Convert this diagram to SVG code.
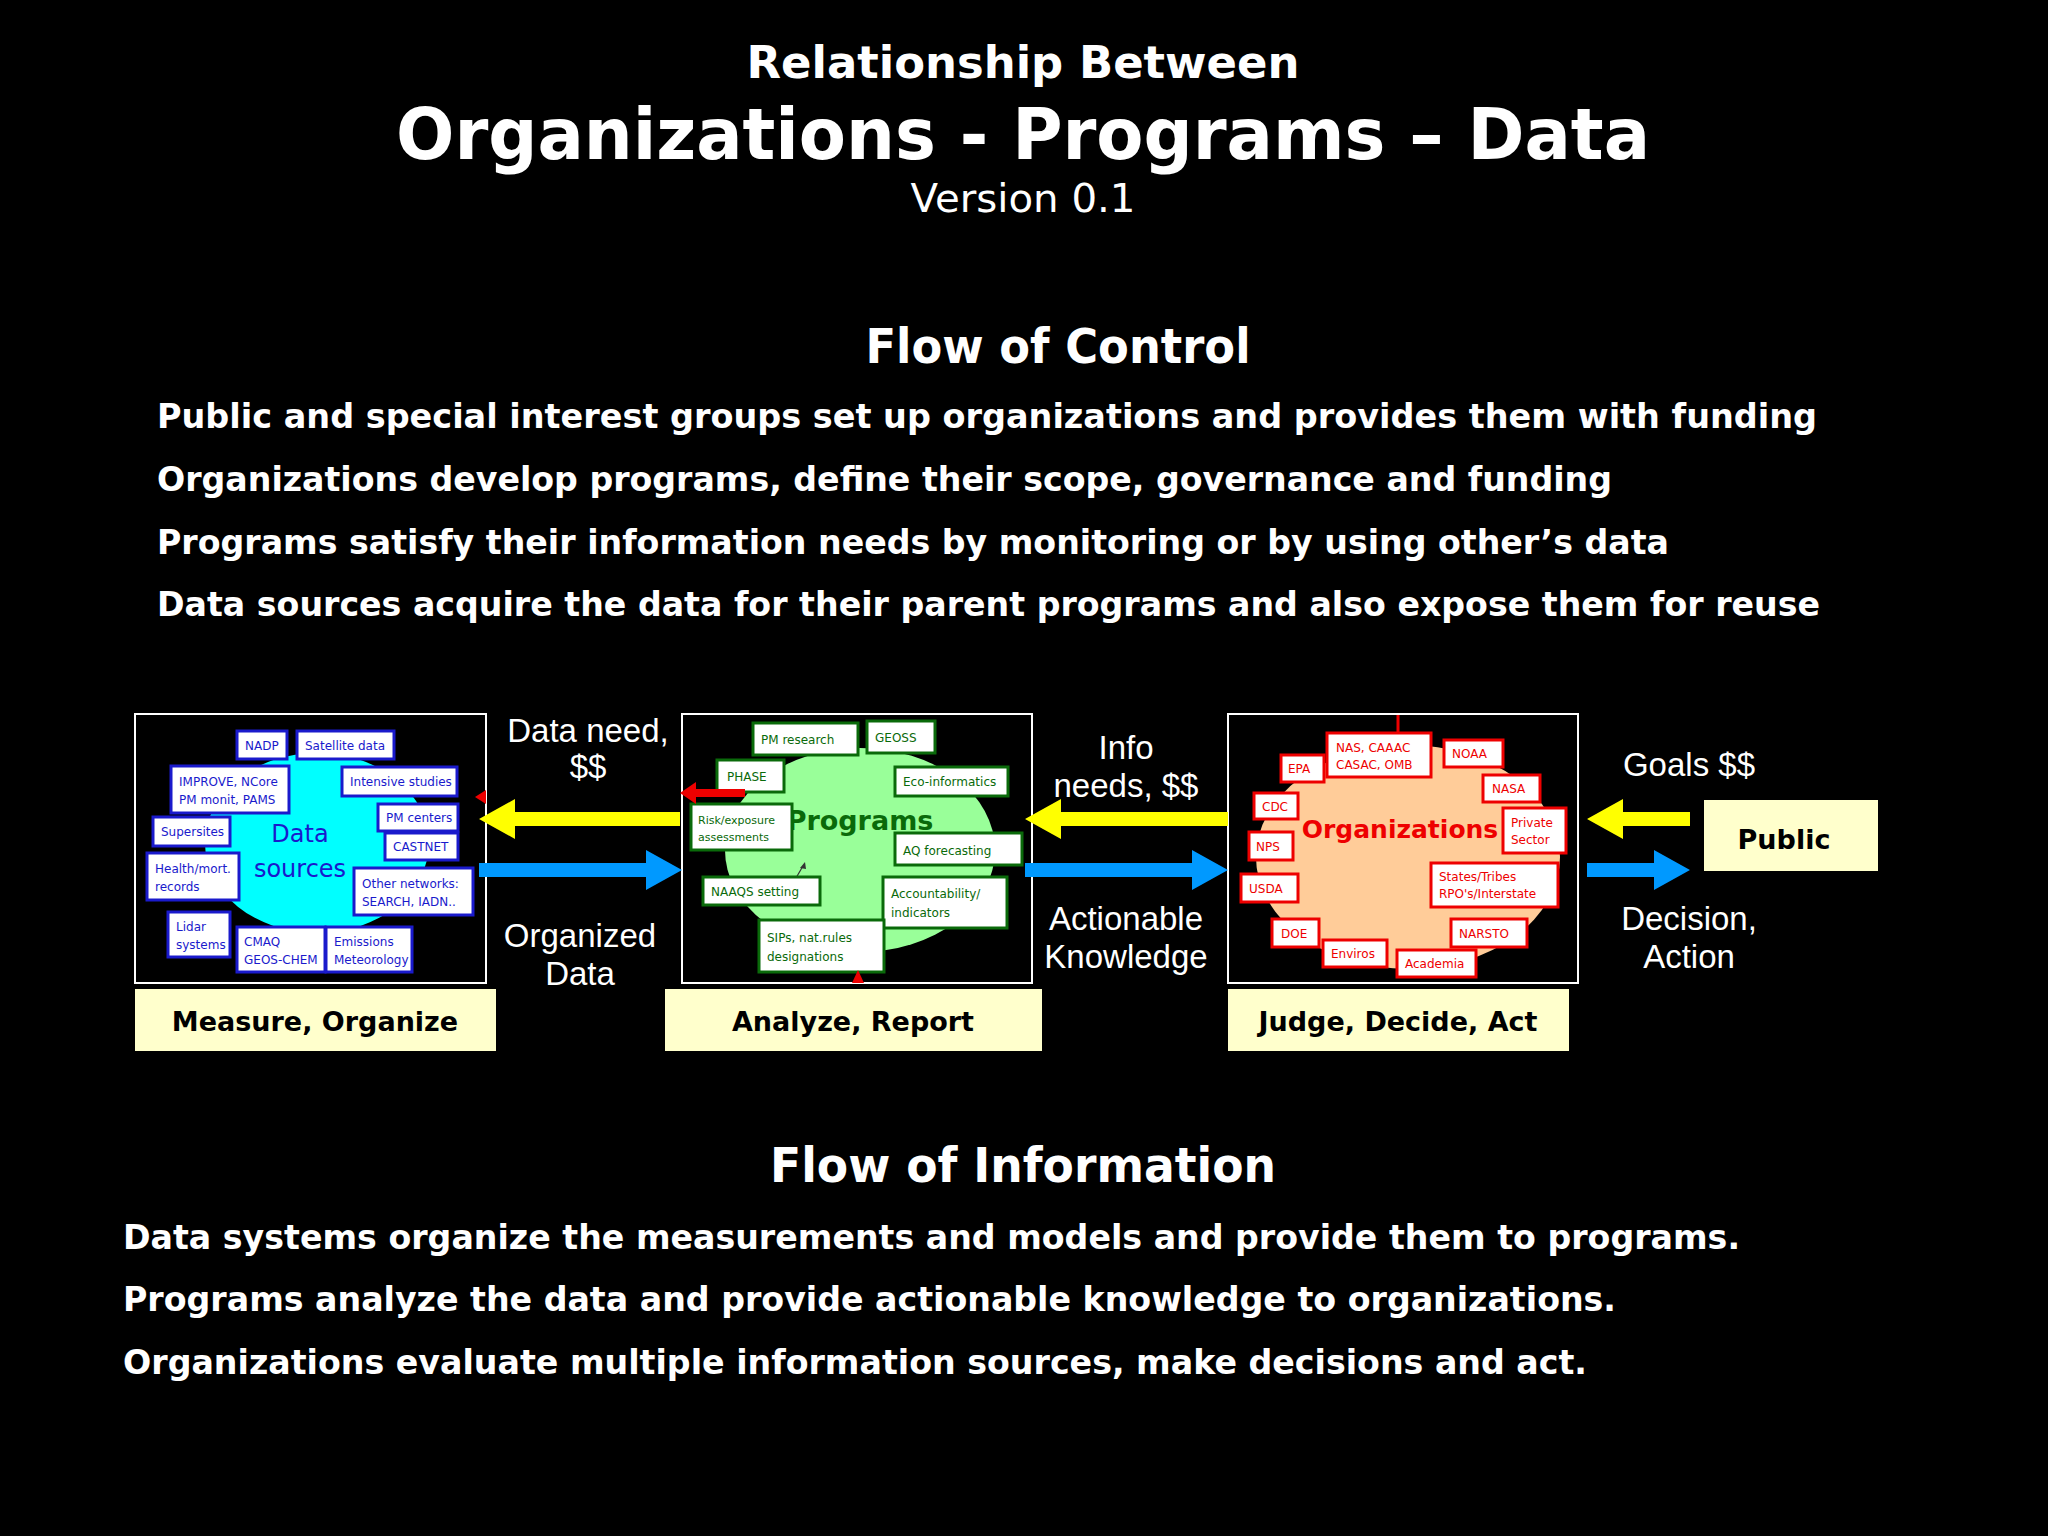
<svg xmlns="http://www.w3.org/2000/svg" width="2048" height="1536" viewBox="0 0 2048 1536">
<defs>
<style>
.h{font-family:"DejaVu Sans","Verdana",sans-serif;font-weight:bold;fill:#fff}
.v{font-family:"DejaVu Sans",sans-serif;fill:#fff}
.a{font-family:"Liberation Sans",Arial,sans-serif;font-size:33px;fill:#fff;text-anchor:middle}
.panel{fill:#000;stroke:#fff;stroke-width:2}
.lab{fill:#FFFFCC}
.labt{font-family:"DejaVu Sans",sans-serif;font-weight:bold;font-size:27px;fill:#000;text-anchor:middle}
.bb{fill:#fff;stroke:#1a1acc;stroke-width:3}
.gb{fill:#fff;stroke:#0a6a0a;stroke-width:3}
.rb{fill:#fff;stroke:#ee0000;stroke-width:3}
.st{font-family:"DejaVu Sans",sans-serif;font-size:12px}
.bt{fill:#1a1acc}.gt{fill:#0a6a0a}.rt{fill:#ee0000}
</style>
</defs>
<rect width="2048" height="1536" fill="#000"/>
<text class="h" x="1023" y="78" font-size="44" text-anchor="middle" textLength="553" lengthAdjust="spacingAndGlyphs">Relationship Between</text>
<text class="h" x="1023" y="159" font-size="72" text-anchor="middle" textLength="1254" lengthAdjust="spacingAndGlyphs">Organizations - Programs – Data</text>
<text class="v" x="1023" y="212" font-size="39" text-anchor="middle" textLength="225" lengthAdjust="spacingAndGlyphs">Version 0.1</text>
<text class="h" x="1058" y="363" font-size="48" text-anchor="middle" textLength="385" lengthAdjust="spacingAndGlyphs">Flow of Control</text>
<g class="h" font-size="34">
<text x="157" y="428" textLength="1660" lengthAdjust="spacingAndGlyphs">Public and special interest groups  set up organizations and provides them with funding</text>
<text x="157" y="491" textLength="1455" lengthAdjust="spacingAndGlyphs">Organizations develop programs, define their scope, governance and funding</text>
<text x="157" y="554" textLength="1512" lengthAdjust="spacingAndGlyphs">Programs satisfy their information needs by monitoring or by using other’s data</text>
<text x="157" y="616" textLength="1663" lengthAdjust="spacingAndGlyphs">Data sources acquire the data for their parent programs and also expose them for reuse</text>
</g>
<text class="h" x="1023" y="1182" font-size="48" text-anchor="middle" textLength="506" lengthAdjust="spacingAndGlyphs">Flow of Information</text>
<g class="h" font-size="34">
<text x="123" y="1249" textLength="1617" lengthAdjust="spacingAndGlyphs">Data systems organize the measurements and models and provide them to programs.</text>
<text x="123" y="1311" textLength="1493" lengthAdjust="spacingAndGlyphs">Programs analyze the data and provide actionable knowledge to organizations.</text>
<text x="123" y="1374" textLength="1464" lengthAdjust="spacingAndGlyphs">Organizations evaluate multiple information sources, make decisions and act.</text>
</g>

<g id="datasources">
<rect class="panel" x="135" y="714" width="351" height="269"/>
<ellipse cx="317" cy="843" rx="112" ry="90" fill="#00FFFF"/>
<text x="300" y="842" font-family="DejaVu Sans,sans-serif" font-size="24" class="bt" text-anchor="middle">Data</text>
<text x="300" y="877" font-family="DejaVu Sans,sans-serif" font-size="24" class="bt" text-anchor="middle">sources</text>
<g class="st bt">
<rect class="bb" x="237" y="731" width="50" height="28"/><text x="245" y="750">NADP</text>
<rect class="bb" x="297" y="731" width="97" height="28"/><text x="305" y="750">Satellite data</text>
<rect class="bb" x="171" y="766" width="118" height="47"/><text x="179" y="786">IMPROVE, NCore</text><text x="179" y="804">PM monit, PAMS</text>
<rect class="bb" x="342" y="767" width="115" height="29"/><text x="350" y="786">Intensive studies</text>
<rect class="bb" x="378" y="804" width="80" height="27"/><text x="386" y="822">PM centers</text>
<rect class="bb" x="385" y="833" width="73" height="27"/><text x="393" y="851">CASTNET</text>
<rect class="bb" x="153" y="817" width="77" height="29"/><text x="161" y="836">Supersites</text>
<rect class="bb" x="147" y="853" width="92" height="47"/><text x="155" y="873">Health/mort.</text><text x="155" y="891">records</text>
<rect class="bb" x="354" y="868" width="119" height="47"/><text x="362" y="888">Other networks:</text><text x="362" y="906">SEARCH, IADN..</text>
<rect class="bb" x="168" y="912" width="62" height="45"/><text x="176" y="931">Lidar</text><text x="176" y="949">systems</text>
<rect class="bb" x="237" y="927" width="88" height="45"/><text x="244" y="946">CMAQ</text><text x="244" y="964">GEOS-CHEM</text>
<rect class="bb" x="326" y="927" width="86" height="45"/><text x="334" y="946">Emissions</text><text x="334" y="964">Meteorology</text>
</g>
<polygon points="475,797 486,790 486,804" fill="#ee0000"/>
</g>

<g id="programs">
<rect class="panel" x="682" y="714" width="350" height="269"/>
<ellipse cx="860" cy="850" rx="135" ry="102" fill="#99FF99"/>
<text x="860" y="830" font-family="DejaVu Sans,sans-serif" font-size="27" font-weight="bold" class="gt" text-anchor="middle">Programs</text>
<line x1="793" y1="883" x2="803" y2="866" stroke="#333" stroke-width="1.2"/>
<polygon points="805,862 800,868 806,869" fill="#333"/>
<g class="st gt">
<rect class="gb" x="753" y="723" width="105" height="32"/><text x="761" y="744">PM research</text>
<rect class="gb" x="867" y="721" width="68" height="32"/><text x="875" y="742">GEOSS</text>
<rect class="gb" x="717" y="760" width="67" height="32"/><text x="727" y="781">PHASE</text>
<rect class="gb" x="895" y="767" width="113" height="29"/><text x="903" y="786">Eco-informatics</text>
<rect class="gb" x="691" y="804" width="101" height="46"/><text x="698" y="824" font-size="11">Risk/exposure</text><text x="698" y="841" font-size="11">assessments</text>
<rect class="gb" x="895" y="833" width="127" height="32"/><text x="903" y="855">AQ forecasting</text>
<rect class="gb" x="703" y="877" width="117" height="28"/><text x="711" y="896">NAAQS setting</text>
<rect class="gb" x="883" y="877" width="124" height="51"/><text x="891" y="898">Accountability/</text><text x="891" y="917">indicators</text>
<rect class="gb" x="759" y="920" width="125" height="52"/><text x="767" y="942">SIPs, nat.rules</text><text x="767" y="961">designations</text>
</g>
<rect x="695" y="789" width="50" height="8" fill="#ee0000"/>
<polygon points="680,793 696,782 696,804" fill="#ee0000"/>
<polygon points="858,970 852,983 864,983" fill="#ee0000"/>
</g>

<g id="organizations">
<rect class="panel" x="1228" y="714" width="350" height="269"/>
<ellipse cx="1408" cy="857" rx="152" ry="112" fill="#FFCC99"/>
<line x1="1398" y1="715" x2="1398" y2="733" stroke="#ee0000" stroke-width="3"/>
<text x="1400" y="838" font-family="DejaVu Sans,sans-serif" font-size="25" font-weight="bold" class="rt" text-anchor="middle">Organizations</text>
<g class="st rt">
<rect class="rb" x="1327" y="733" width="104" height="44"/><text x="1336" y="752">NAS, CAAAC</text><text x="1336" y="769">CASAC, OMB</text>
<rect class="rb" x="1281" y="755" width="43" height="27"/><text x="1288" y="773">EPA</text>
<rect class="rb" x="1444" y="740" width="59" height="27"/><text x="1452" y="758">NOAA</text>
<rect class="rb" x="1483" y="775" width="57" height="27"/><text x="1492" y="793">NASA</text>
<rect class="rb" x="1254" y="793" width="44" height="26"/><text x="1262" y="811">CDC</text>
<rect class="rb" x="1503" y="808" width="63" height="45"/><text x="1511" y="827">Private</text><text x="1511" y="844">Sector</text>
<rect class="rb" x="1249" y="832" width="44" height="28"/><text x="1256" y="851">NPS</text>
<rect class="rb" x="1241" y="874" width="57" height="28"/><text x="1249" y="893">USDA</text>
<rect class="rb" x="1431" y="863" width="127" height="44"/><text x="1439" y="881">States/Tribes</text><text x="1439" y="898">RPO's/Interstate</text>
<rect class="rb" x="1272" y="919" width="47" height="28"/><text x="1281" y="938">DOE</text>
<rect class="rb" x="1451" y="919" width="76" height="28"/><text x="1459" y="938">NARSTO</text>
<rect class="rb" x="1323" y="940" width="64" height="27"/><text x="1331" y="958">Enviros</text>
<rect class="rb" x="1397" y="950" width="79" height="27"/><text x="1405" y="968">Academia</text>
</g>
</g>

<g id="label-measure"><rect class="lab" x="135" y="989" width="361" height="62"/><text class="labt" x="315" y="1031">Measure, Organize</text></g>
<g id="label-analyze"><rect class="lab" x="665" y="989" width="377" height="62"/><text class="labt" x="853" y="1031">Analyze, Report</text></g>
<g id="label-judge"><rect class="lab" x="1228" y="989" width="341" height="62"/><text class="labt" x="1398" y="1031">Judge, Decide, Act</text></g>
<g id="public"><rect class="lab" x="1704" y="800" width="174" height="71"/><text class="labt" x="1784" y="849" font-size="32">Public</text></g>

<g id="connectors">
<polygon points="479,819 515,799 515,812 680,812 680,826 515,826 515,839" fill="#FFFF00"/>
<polygon points="1025,819 1061,799 1061,812 1228,812 1228,826 1061,826 1061,839" fill="#FFFF00"/>
<polygon points="1587,819 1623,799 1623,812 1690,812 1690,826 1623,826 1623,839" fill="#FFFF00"/>
<polygon points="682,870 646,850 646,863 479,863 479,877 646,877 646,890" fill="#0099FF"/>
<polygon points="1228,870 1192,850 1192,863 1025,863 1025,877 1192,877 1192,890" fill="#0099FF"/>
<polygon points="1690,870 1654,850 1654,863 1587,863 1587,877 1654,877 1654,890" fill="#0099FF"/>
<text class="a" x="588" y="742">Data need,</text><text class="a" x="588" y="778">$$</text>
<text class="a" x="580" y="947">Organized</text><text class="a" x="580" y="985">Data</text>
<text class="a" x="1126" y="759">Info</text><text class="a" x="1126" y="797">needs, $$</text>
<text class="a" x="1126" y="930">Actionable</text><text class="a" x="1126" y="968">Knowledge</text>
<text class="a" x="1689" y="776">Goals $$</text>
<text class="a" x="1689" y="930">Decision,</text><text class="a" x="1689" y="968">Action</text>
</g>
</svg>
